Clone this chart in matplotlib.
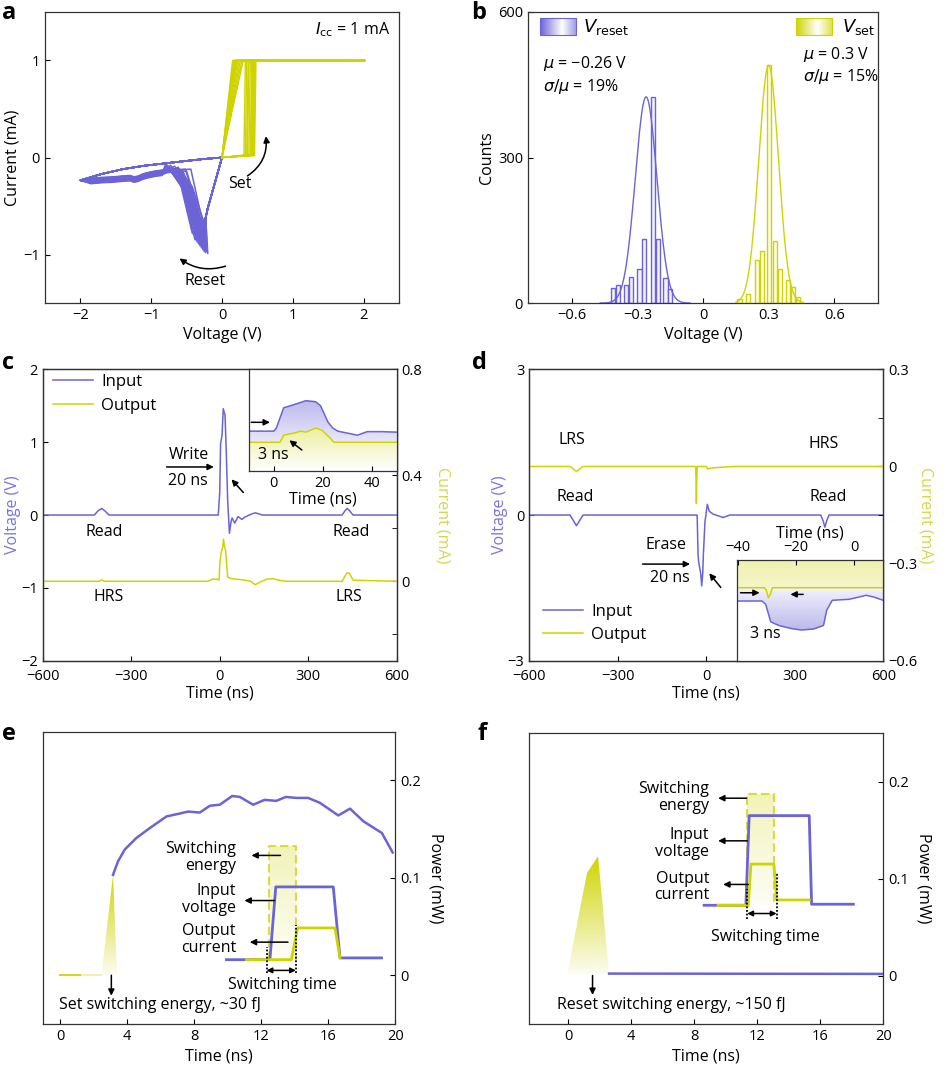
import numpy as np
import matplotlib
matplotlib.use("Agg")
import matplotlib.pyplot as plt
from matplotlib.colors import to_rgb
from matplotlib.patches import Polygon, Rectangle

PURPLE = "#6b63d6"
YELLOW = "#cfd400"

# ---------------- a: I-V cycles ----------------
reset_peak_v = [-0.20, -0.21, -0.22, -0.23, -0.24, -0.25, -0.26, -0.27, -0.28, -0.29,
                -0.30, -0.31, -0.32, -0.33, -0.34, -0.35, -0.36, -0.38, -0.40, -0.42,
                -0.24, -0.27, -0.30, -0.33]
reset_peak_i = [-0.99, -0.97, -0.96, -0.98, -0.94, -0.97, -0.92, -0.95, -0.90, -0.93,
                -0.88, -0.91, -0.86, -0.89, -0.84, -0.87, -0.82, -0.85, -0.80, -0.78,
                -0.70, -0.74, -0.68, -0.72]
reset_mid_v = [-0.30, -0.33, -0.35, -0.36, -0.38, -0.39, -0.40, -0.42, -0.43, -0.44,
               -0.46, -0.47, -0.49, -0.50, -0.51, -0.53, -0.54, -0.55, -0.57, -0.59,
               -0.42, -0.46, -0.50, -0.55]
reset_mid_i = [-0.58, -0.55, -0.50, -0.52, -0.45, -0.50, -0.42, -0.46, -0.40, -0.44,
               -0.36, -0.40, -0.34, -0.38, -0.30, -0.35, -0.30, -0.32, -0.28, -0.26,
               -0.30, -0.28, -0.25, -0.22]
reset_end_v = [-0.44, -0.50, -0.52, -0.55, -0.56, -0.58, -0.60, -0.62, -0.63, -0.65,
               -0.66, -0.68, -0.70, -0.71, -0.72, -0.74, -0.75, -0.76, -0.78, -0.80,
               -0.62, -0.67, -0.73, -0.79]
reset_end_i = [-0.12, -0.14, -0.12, -0.15, -0.13, -0.14, -0.12, -0.13, -0.11, -0.14,
               -0.12, -0.13, -0.11, -0.12, -0.10, -0.12, -0.11, -0.10, -0.09, -0.08,
               -0.10, -0.09, -0.08, -0.07]
reset_shift = [0.00, 0.02, -0.01, 0.03, 0.01, 0.04, -0.02, 0.02, 0.05, 0.00,
               0.03, 0.01, 0.06, -0.01, 0.04, 0.02, 0.05, 0.07, 0.03, 0.06,
               0.08, 0.04, 0.09, 0.07]
lrs_neg_v = [0, -0.10, -0.20, -0.23]
lrs_neg_i = [0, -0.26, -0.52, -0.62]
hrs_go_v = [-0.85, -0.95, -1.05, -1.12, -1.18, -1.24, -1.3, -1.4, -1.55, -1.7, -1.85, -2.0]
hrs_go_i = [-0.14, -0.15, -0.165, -0.18, -0.20, -0.21, -0.195, -0.20, -0.21, -0.215, -0.225, -0.235]
hrs_ret_v = [-2.0, -1.7, -1.4, -1.1, -0.8, -0.5, -0.25, 0]
hrs_ret_i = [-0.235, -0.17, -0.12, -0.085, -0.06, -0.035, -0.015, 0]

set_v = [0.31, 0.33, 0.35, 0.36, 0.38, 0.40, 0.41, 0.42, 0.43, 0.44, 0.45, 0.46]
set_hrs_i = [0.02, 0.02, 0.025, 0.02, 0.03, 0.02, 0.025, 0.03, 0.02, 0.025, 0.03, 0.02]
lrs_v = [0.15, 0.16, 0.17, 0.18, 0.19, 0.20, 0.21, 0.22, 0.24, 0.26, 0.28, 0.30]
icc = 1.0
v_max = 2.02

# ---------------- b: histograms ----------------
reset_centers = [-0.41, -0.389, -0.35, -0.33, -0.29, -0.268, -0.23, -0.207, -0.171, -0.15]
reset_counts = [32, 37, 37, 54, 70, 131, 425, 131, 51, 29]
set_centers = [0.167, 0.207, 0.247, 0.268, 0.300, 0.331, 0.352, 0.390, 0.412, 0.433]
set_counts = [8, 19, 88, 107, 490, 127, 70, 48, 33, 13]
reset_mu, reset_cv, reset_peak = -0.26, 0.19, 425
set_mu, set_cv, set_peak = 0.30, 0.15, 490

# ---------------- c: write pulse ----------------
c_in_t = [-600, -425, -412, -400, -390, -375, -5, 0, 3, 8, 12, 18, 22, 27, 33,
          38, 42, 51, 62, 75, 85, 100, 112, 120, 130, 145, 415, 425, 432, 440, 452, 600]
c_in_v = [0, 0, 0.06, 0.09, 0.06, 0, 0, 0.3, 0.98, 1.1, 1.46, 1.37, 0.9, 0.2, -0.25,
          -0.1, -0.04, -0.11, -0.02, -0.06, -0.03, 0, 0.02, 0.03, 0.02, 0, 0, 0.06, 0.09, 0.06, 0, 0]
c_out_t = [-600, -410, -400, -390, -40, -25, -12, -2, 0, 5, 10, 13, 16, 20, 27, 40,
           80, 105, 120, 135, 160, 180, 200, 225, 415, 425, 432, 441, 452, 600]
c_out_i = [0, 0, 0.005, 0, 0, 0.008, 0.008, 0.005, 0.064, 0.108, 0.13, 0.159, 0.13, 0.115, 0.015, 0.01,
           0.005, 0, -0.013, -0.004, 0.008, 0.01, 0.004, 0, 0, 0.02, 0.032, 0.028, 0.004, 0]
ci_in_t = [-10, 0, 1, 4, 8, 13, 17, 19, 22, 24, 26, 30, 34, 38, 44, 50]
ci_in_v = [0.39, 0.39, 0.42, 0.62, 0.65, 0.69, 0.68, 0.64, 0.48, 0.42, 0.39, 0.37, 0.35, 0.385, 0.385, 0.38]
ci_out_t = [-10, 2.5, 4, 8, 11, 13, 17, 19.5, 23, 24.4, 50]
ci_out_v = [0.28, 0.28, 0.35, 0.37, 0.39, 0.38, 0.42, 0.40, 0.32, 0.28, 0.28]

# ---------------- d: erase pulse ----------------
d_in_t = [-600, -462, -450, -440, -430, -418, -31, -28, -26, -24, -19, -15.6, -12, -10,
          -4.5, 3.5, 10, 23, 57, 80, 388, 396, 402, 408, 416, 600]
d_in_v = [0, 0, -0.12, -0.22, -0.12, 0, 0, -0.8, -0.95, -1.03, -1.2, -1.46, -1.2, -0.82,
          -0.14, 0.22, 0.08, 0.02, -0.05, 0, 0, -0.12, -0.25, -0.12, 0, 0]
d_out_t = [-600, -462, -450, -440, -430, -418, -36, -34.5, -33.6, -32.5, -31, 0, 5, 10, 25, 90, 600]
d_out_i = [0, 0, -0.008, -0.016, -0.008, 0, 0, -0.05, -0.114, -0.05, 0, 0, -0.008, -0.006, -0.004, 0, 0]
di_out_t = [-40.5, -31, -30.3, -29.6, -28.9, -28.2, 10]
di_out_v = [0.725, 0.725, 0.70, 0.626, 0.66, 0.725, 0.725]
di_in_t = [-40.5, -31.8, -30.5, -28.8, -26, -21.8, -18.2, -14, -10.6, -9.5, -7.6, -1.8, 2, 4.1, 7, 10]
di_in_v = [0.593, 0.593, 0.56, 0.387, 0.35, 0.32, 0.305, 0.315, 0.35, 0.50, 0.60, 0.61, 0.635, 0.65, 0.63, 0.60]

# ---------------- e: set power ----------------
e_pow_t = [3.16, 3.46, 3.86, 4.56, 5.35, 6.35, 7.14, 7.64, 8.34, 8.94, 9.53, 10.27, 10.73,
           11.52, 12.2, 12.9, 13.47, 14.1, 14.8, 15.5, 16.6, 17.3, 18.1, 19.2, 19.84]
e_pow_p = [0.103, 0.117, 0.129, 0.141, 0.151, 0.163, 0.166, 0.168, 0.167, 0.174, 0.175, 0.184, 0.183,
           0.175, 0.18, 0.179, 0.183, 0.182, 0.182, 0.177, 0.164, 0.171, 0.158, 0.146, 0.126]
e_peak_t = [2.47, 3.16, 3.40]
e_peak_p = [0, 0.103, 0]
e_base_t = [0, 1.2, 2.47]
e_vin_t = [9.93, 12.52, 12.87, 16.3, 16.7, 19.18]
e_vin_p = [0.016, 0.016, 0.0907, 0.0907, 0.0178, 0.0178]
e_iout_t = [11.12, 13.8, 14.17, 16.4, 16.7]
e_iout_p = [0.016, 0.016, 0.0486, 0.0486, 0.0178]
e_box = (12.48, 14.1, 0.016, 0.133)
e_dots = [(12.32, 0.029), (14.07, 0.052)]

# ---------------- f: reset power ----------------
f_peak_t = [-0.06, 1.2, 1.9, 2.6]
f_peak_p = [0.001, 0.106, 0.123, 0.002]
f_pow_t = [2.6, 20]
f_pow_p = [0.002, 0.0017]
f_vin_t = [8.63, 11.28, 11.49, 15.3, 15.45, 18.1]
f_vin_p = [0.0725, 0.0725, 0.165, 0.165, 0.0736, 0.0736]
f_iout_t = [9.52, 11.43, 11.6, 13.06, 13.23, 15.3]
f_iout_p = [0.0725, 0.0725, 0.115, 0.115, 0.078, 0.078]
f_box = (11.32, 13.06, 0.0725, 0.187)
f_dots = [(11.37, 0.0888), (13.23, 0.1058)]


plt.rcParams["font.family"] = ["Open Sans", "DejaVu Sans"]
plt.rcParams["font.size"] = 11
plt.rcParams["mathtext.fontset"] = "dejavusans"
plt.rcParams["axes.linewidth"] = 0.9
plt.rcParams["axes.edgecolor"] = "#333333"
plt.rcParams["xtick.direction"] = "in"
plt.rcParams["ytick.direction"] = "in"
plt.rcParams["xtick.major.size"] = 3.5
plt.rcParams["ytick.major.size"] = 3.5
plt.rcParams["xtick.minor.size"] = 3.5
plt.rcParams["ytick.minor.size"] = 3.5
plt.rcParams["xtick.labelsize"] = 10.5
plt.rcParams["ytick.labelsize"] = 10.5
plt.rcParams["axes.labelsize"] = 11.5
TXT = 11.5


def gradient_poly(ax, verts, color, a_top, a_bot, zorder=1):
    verts = np.asarray(verts, dtype=float)
    poly = Polygon(verts, closed=True, facecolor="none", edgecolor="none")
    ax.add_patch(poly)
    img = np.zeros((128, 1, 4))
    img[..., :3] = to_rgb(color)
    img[:, 0, 3] = np.linspace(a_bot, a_top, 128)
    im = ax.imshow(img, extent=[verts[:, 0].min(), verts[:, 0].max(),
                                verts[:, 1].min(), verts[:, 1].max()],
                   origin="lower", aspect="auto", zorder=zorder, interpolation="bilinear")
    im.set_clip_path(poly)


def arrow(ax, tail, head, style="-|>", lw=1.1, ms=9):
    ax.annotate("", xy=head, xytext=tail,
                arrowprops=dict(arrowstyle=style, color="black", lw=lw,
                                mutation_scale=ms, shrinkA=0, shrinkB=0))


fig = plt.figure(figsize=(9.45, 10.7), dpi=100)

# ======== a ========
ax = fig.add_axes([0.0476, 0.7168, 0.3746, 0.2720])
for k in range(len(reset_peak_v)):
    vv = lrs_neg_v + [reset_peak_v[k], reset_mid_v[k], reset_end_v[k]]
    ii = lrs_neg_i + [reset_peak_i[k], reset_mid_i[k], reset_end_i[k]]
    for v, i in zip(hrs_go_v[:-1], hrs_go_i[:-1]):
        if v < reset_end_v[k]:
            vv.append(v)
            ii.append(i - reset_shift[k] * 0.5)
    vv += hrs_ret_v
    ii += hrs_ret_i
    ax.plot(vv, ii, color=PURPLE, lw=1.1)
for k in range(len(set_v)):
    vv = [0, set_v[k], set_v[k] + 0.02, v_max, lrs_v[k], 0]
    ii = [0, set_hrs_i[k], icc, icc, icc, 0]
    ax.plot(vv, ii, color=YELLOW, lw=1.0)
ax.set_xlim(-2.5, 2.5)
ax.set_ylim(-1.5, 1.5)
ax.set_xticks([-2, -1, 0, 1, 2])
ax.set_yticks([-1, 0, 1])
ax.set_xlabel("Voltage (V)", labelpad=3)
ax.set_ylabel("Current (mA)", labelpad=2)
ax.text(2.37, 1.32, r"$I_{\mathrm{cc}}$ = 1 mA", ha="right", va="center", fontsize=TXT)
ax.annotate("", xy=(0.62, 0.22), xytext=(0.36, -0.19),
            arrowprops=dict(arrowstyle="-|>", color="black", lw=1.1, mutation_scale=9,
                            connectionstyle="arc3,rad=0.3", shrinkA=0, shrinkB=0))
ax.text(0.25, -0.27, "Set", ha="center", va="center", fontsize=TXT)
ax.annotate("", xy=(-0.6, -1.04), xytext=(0.05, -1.12),
            arrowprops=dict(arrowstyle="-|>", color="black", lw=1.1, mutation_scale=9,
                            connectionstyle="arc3,rad=-0.25", shrinkA=0, shrinkB=0))
ax.text(-0.24, -1.27, "Reset", ha="center", va="center", fontsize=TXT)

# ======== b ========
ax = fig.add_axes([0.5587, 0.7168, 0.3704, 0.2720])
ax.bar(reset_centers, reset_counts, width=0.019, color="#f1f0fc", edgecolor=PURPLE, lw=1.0, zorder=2)
ax.bar(set_centers, set_counts, width=0.019, color="#fbfce6", edgecolor=YELLOW, lw=1.0, zorder=2)
# Gaussian fits from the quoted mean and sigma/mu
xr = np.linspace(-0.47, -0.06, 200)
sr = abs(reset_mu) * reset_cv
ax.plot(xr, reset_peak * np.exp(-0.5 * ((xr - reset_mu) / sr) ** 2), color=PURPLE, lw=1.0, zorder=3)
xs = np.linspace(0.15, 0.46, 200)
ss = set_mu * set_cv
ax.plot(xs, set_peak * np.exp(-0.5 * ((xs - set_mu) / ss) ** 2), color=YELLOW, lw=1.0, zorder=3)
for col, x0, x1, lab, tx in [(PURPLE, -0.745, -0.580, r"$V_{\mathrm{reset}}$", -0.548),
                             (YELLOW, 0.425, 0.588, r"$V_{\mathrm{set}}$", 0.635)]:
    t = np.linspace(0, 1, 64)
    c = np.clip(np.abs(t - 0.6) / 0.6, 0, 1)
    img = np.ones((1, 64, 3))
    img[0] = (1 - c[:, None]) * 1.0 + c[:, None] * np.array(to_rgb(col))
    ax.imshow(img, extent=[x0, x1, 553, 587], aspect="auto", zorder=4, interpolation="bilinear")
    ax.add_patch(Rectangle((x0, 553), x1 - x0, 34, fill=False, edgecolor=col, lw=0.8, zorder=5))
    ax.text(tx, 570, lab, ha="left", va="center", fontsize=13)
ax.text(-0.733, 494, r"$\mu$ = −0.26 V", ha="left", va="center", fontsize=TXT)
ax.text(-0.733, 446, r"$\sigma/\mu$ = 19%", ha="left", va="center", fontsize=TXT)
ax.text(0.458, 512, r"$\mu$ = 0.3 V", ha="left", va="center", fontsize=TXT)
ax.text(0.458, 467, r"$\sigma/\mu$ = 15%", ha="left", va="center", fontsize=TXT)
ax.set_xlim(-0.8, 0.8)
ax.set_ylim(0, 600)
ax.set_xticks([-0.6, -0.3, 0, 0.3, 0.6])
ax.set_xticklabels(["−0.6", "−0.3", "0", "0.3", "0.6"])
ax.set_yticks([0, 300, 600])
ax.set_xlabel("Voltage (V)", labelpad=3)
ax.set_ylabel("Counts", labelpad=2)

# ======== c ========
ax = fig.add_axes([0.0452, 0.3825, 0.3746, 0.2723])
ax2 = ax.twinx()
l1, = ax.plot(c_in_t, c_in_v, color=PURPLE, lw=1.1, label="Input")
l2, = ax2.plot(c_out_t, c_out_i, color=YELLOW, lw=1.1, label="Output")
ax.set_xlim(-600, 600)
ax.set_ylim(-2, 2)
ax.set_xticks([-600, -300, 0, 300, 600])
ax.set_yticks([-2, -1, 0, 1, 2])
ax.tick_params(axis="x", pad=6)
ax2.set_ylim(-0.3, 0.8)
ax2.set_yticks([0, 0.4, 0.8])
ax2.set_yticklabels(["0", "0.4", "0.8"])
ax2.set_yticks([-0.2, 0.2, 0.6], minor=True)
ax2.tick_params(axis="y", which="minor", direction="in")
ax.set_xlabel("Time (ns)", labelpad=1)
ax.set_ylabel("Voltage (V)", color="#7b74d9", labelpad=0)
ax2.set_ylabel("Current (mA)", color="#d3d84a", rotation=270, labelpad=20)
ax2.legend([l1, l2], ["Input", "Output"], loc="upper left", bbox_to_anchor=(0.029, 0.984),
           frameon=False, borderpad=0, borderaxespad=0, handlelength=2.4,
           handletextpad=0.5, labelspacing=0.45, fontsize=12)
ax.text(-174, 0.83, "Write", ha="left", va="center", fontsize=TXT)
arrow(ax, (-180, 0.66), (-20, 0.66))
ax.text(-174, 0.47, "20 ns", ha="left", va="center", fontsize=TXT)
arrow(ax, (80, 0.31), (40, 0.49))
ax.text(-391, -0.23, "Read", ha="center", va="center", fontsize=TXT)
ax.text(445, -0.23, "Read", ha="center", va="center", fontsize=TXT)
ax.text(-378, -1.12, "HRS", ha="center", va="center", fontsize=TXT)
ax.text(438, -1.13, "LRS", ha="center", va="center", fontsize=TXT)

axi = fig.add_axes([0.2638, 0.5601, 0.1560, 0.0948])
axi.set_zorder(10)
gradient_poly(axi, list(zip(ci_in_t, ci_in_v)) + list(zip(ci_out_t[::-1], ci_out_v[::-1])),
              PURPLE, 0.45, 0.15)
gradient_poly(axi, list(zip(ci_out_t, ci_out_v)) + [(50, 0), (-10, 0)], YELLOW, 0.38, 0.0)
axi.plot(ci_in_t, ci_in_v, color=PURPLE, lw=1.1)
axi.plot(ci_out_t, ci_out_v, color=YELLOW, lw=1.1)
arrow(axi, (-9.2, 0.477), (-1.6, 0.477))
arrow(axi, (11.4, 0.204), (6.3, 0.30))
axi.text(-6.4, 0.155, "3 ns", ha="left", va="center", fontsize=TXT)
axi.set_xlim(-10, 50)
axi.set_ylim(0, 1)
axi.set_yticks([])
axi.set_xticks([0, 20, 40])
axi.set_xlabel("Time (ns)", labelpad=1)

# ======== d ========
ax = fig.add_axes([0.5601, 0.3825, 0.3746, 0.2723])
ax2 = ax.twinx()
l1, = ax.plot(d_in_t, d_in_v, color=PURPLE, lw=1.1)
l2, = ax2.plot(d_out_t, d_out_i, color=YELLOW, lw=1.1)
ax.set_xlim(-600, 600)
ax.set_ylim(-3, 3)
ax.set_xticks([-600, -300, 0, 300, 600])
ax.set_yticks([-3, 0, 3])
ax.tick_params(axis="x", pad=6)
ax2.set_ylim(-0.6, 0.3)
ax2.set_yticks([-0.6, -0.3, 0, 0.3])
ax2.set_yticklabels(["−0.6", "−0.3", "0", "0.3"])
ax2.set_yticks([-0.45, -0.15, 0.15], minor=True)
ax2.tick_params(axis="y", which="minor", direction="in")
ax.set_xlabel("Time (ns)", labelpad=1)
ax.set_ylabel("Voltage (V)", color="#7b74d9", labelpad=0)
ax2.set_ylabel("Current (mA)", color="#d3d84a", rotation=270, labelpad=12)
ax2.legend([l1, l2], ["Input", "Output"], loc="upper left", bbox_to_anchor=(0.039, 0.196),
           frameon=False, borderpad=0, borderaxespad=0, handlelength=2.4,
           handletextpad=0.5, labelspacing=0.45, fontsize=12)
ax.text(-456, 1.54, "LRS", ha="center", va="center", fontsize=TXT)
ax.text(399, 1.46, "HRS", ha="center", va="center", fontsize=TXT)
ax.text(-445, 0.38, "Read", ha="center", va="center", fontsize=TXT)
ax.text(414, 0.37, "Read", ha="center", va="center", fontsize=TXT)
ax.text(-136, -0.62, "Erase", ha="center", va="center", fontsize=TXT)
arrow(ax, (-216, -1.01), (-55, -1.01))
ax.text(-125, -1.30, "20 ns", ha="center", va="center", fontsize=TXT)
arrow(ax, (49, -1.49), (10, -1.2))

axi = fig.add_axes([0.7796, 0.3825, 0.1551, 0.0941])
axi.set_zorder(10)
gradient_poly(axi, list(zip(di_out_t, di_out_v)) + [(10, 1), (-40.5, 1)], YELLOW, 0.32, 0.18)
gradient_poly(axi, list(zip(di_out_t, di_out_v)) + list(zip(di_in_t[::-1], di_in_v[::-1])),
              PURPLE, 0.08, 0.45)
axi.plot(di_in_t, di_in_v, color=PURPLE, lw=1.1)
axi.plot(di_out_t, di_out_v, color=YELLOW, lw=1.1)
arrow(axi, (-39.2, 0.675), (-32.6, 0.675))
arrow(axi, (-17.6, 0.659), (-22.0, 0.659))
axi.text(-30.6, 0.27, "3 ns", ha="center", va="center", fontsize=TXT)
axi.set_xlim(-40.5, 10)
axi.set_ylim(0, 1)
axi.set_yticks([])
axi.xaxis.tick_top()
axi.xaxis.set_label_position("top")
axi.set_xticks([-40, -20, 0])
axi.set_xlabel("Time (ns)", labelpad=2)

# ======== e ========
ax = fig.add_axes([0.0458, 0.0430, 0.3725, 0.2732])
gradient_poly(ax, list(zip(e_peak_t, e_peak_p)), YELLOW, 1.0, 0.05, zorder=2)
ax.plot(e_base_t[:2], [0, 0], color=YELLOW, lw=1.5, alpha=0.9)
ax.plot(e_base_t[1:], [0, 0], color=YELLOW, lw=1.5, alpha=0.3)
ax.plot(e_pow_t, e_pow_p, color=PURPLE, lw=1.8, zorder=3)
x0, x1, y0, y1 = e_box
gradient_poly(ax, [(x0, y0), (x1, y0), (x1, y1), (x0, y1)], YELLOW, 0.28, 0.04, zorder=1)
ax.plot([x0, x0, x1, x1], [y0, y1, y1, y0], color=YELLOW, lw=1.5, ls=(0, (4, 2)), alpha=0.75, zorder=2)
ax.plot(e_vin_t, e_vin_p, color=PURPLE, lw=2.0, zorder=3)
ax.plot(e_iout_t, e_iout_p, color=YELLOW, lw=2.0, zorder=3)
for xd, yd in e_dots:
    ax.plot([xd, xd], [0.002, yd], color="black", lw=1.3, ls=(0, (1, 1)), zorder=4)
arrow(ax, (e_dots[0][0], 0.005), (e_dots[1][0], 0.005), style="<|-|>", ms=8)
ax.text(13.27, -0.0096, "Switching time", ha="center", va="center", fontsize=TXT)
ax.text(10.49, 0.121, "Switching\nenergy", ha="right", va="center", fontsize=TXT, linespacing=1.05)
ax.text(10.49, 0.078, "Input\nvoltage", ha="right", va="center", fontsize=TXT, linespacing=1.05)
ax.text(10.49, 0.0366, "Output\ncurrent", ha="right", va="center", fontsize=TXT, linespacing=1.05)
arrow(ax, (13.15, 0.123), (11.42, 0.123))
arrow(ax, (12.8, 0.0767), (11.0, 0.0767))
arrow(ax, (13.6, 0.034), (11.32, 0.034))
arrow(ax, (3.06, 0.0), (3.06, -0.021))
ax.text(-0.06, -0.030, "Set switching energy, ~30 fJ", ha="left", va="center", fontsize=TXT)
ax.set_xlim(-1, 20)
ax.set_ylim(-0.05, 0.25)
ax.set_xticks([0, 4, 8, 12, 16, 20])
ax.yaxis.tick_right()
ax.yaxis.set_label_position("right")
ax.set_yticks([0, 0.1, 0.2])
ax.set_yticklabels(["0", "0.1", "0.2"])
ax.set_xlabel("Time (ns)", labelpad=3)
ax.set_ylabel("Power (mW)", rotation=270, labelpad=16)

# ======== f ========
ax = fig.add_axes([0.5595, 0.0430, 0.3752, 0.2717])
gradient_poly(ax, list(zip(f_peak_t, f_peak_p)), YELLOW, 1.0, 0.05, zorder=2)
ax.plot(f_pow_t, f_pow_p, color=PURPLE, lw=1.8, zorder=3)
x0, x1, y0, y1 = f_box
gradient_poly(ax, [(x0, y0), (x1, y0), (x1, y1), (x0, y1)], YELLOW, 0.28, 0.04, zorder=1)
ax.plot([x0, x0, x1, x1], [y0, y1, y1, y0], color=YELLOW, lw=1.5, ls=(0, (4, 2)), alpha=0.75, zorder=2)
ax.plot(f_vin_t, f_vin_p, color=PURPLE, lw=2.0, zorder=3)
ax.plot(f_iout_t, f_iout_p, color=YELLOW, lw=2.0, zorder=3)
for xd, yd in f_dots:
    ax.plot([xd, xd], [0.058, yd], color="black", lw=1.3, ls=(0, (1, 1)), zorder=4)
arrow(ax, (f_dots[0][0], 0.064), (f_dots[1][0], 0.064), style="<|-|>", ms=8)
ax.text(12.49, 0.0397, "Switching time", ha="center", va="center", fontsize=TXT)
ax.text(8.95, 0.184, "Switching\nenergy", ha="right", va="center", fontsize=TXT, linespacing=1.05)
ax.text(8.95, 0.136, "Input\nvoltage", ha="right", va="center", fontsize=TXT, linespacing=1.05)
ax.text(8.95, 0.0915, "Output\ncurrent", ha="right", va="center", fontsize=TXT, linespacing=1.05)
arrow(ax, (11.32, 0.183), (9.52, 0.183))
arrow(ax, (11.37, 0.139), (9.52, 0.139))
arrow(ax, (11.43, 0.094), (9.84, 0.094))
arrow(ax, (1.55, 0.0), (1.55, -0.02))
ax.text(-0.7, -0.030, "Reset switching energy, ~150 fJ", ha="left", va="center", fontsize=TXT)
ax.set_xlim(-2.5, 20)
ax.set_ylim(-0.05, 0.25)
ax.set_xticks([0, 4, 8, 12, 16, 20])
ax.yaxis.tick_right()
ax.yaxis.set_label_position("right")
ax.set_yticks([0, 0.1, 0.2])
ax.set_yticklabels(["0", "0.1", "0.2"])
ax.set_xlabel("Time (ns)", labelpad=3)
ax.set_ylabel("Power (mW)", rotation=270, labelpad=16)

for lab, x, y in [("a", 0.002, 0.999), ("b", 0.499, 0.999), ("c", 0.002, 0.672),
                  ("d", 0.499, 0.672), ("e", 0.002, 0.3250), ("f", 0.505, 0.3250)]:
    fig.text(x, y, lab, fontsize=17, fontweight="bold", va="top", ha="left")

fig.savefig("out.png", dpi=100)
